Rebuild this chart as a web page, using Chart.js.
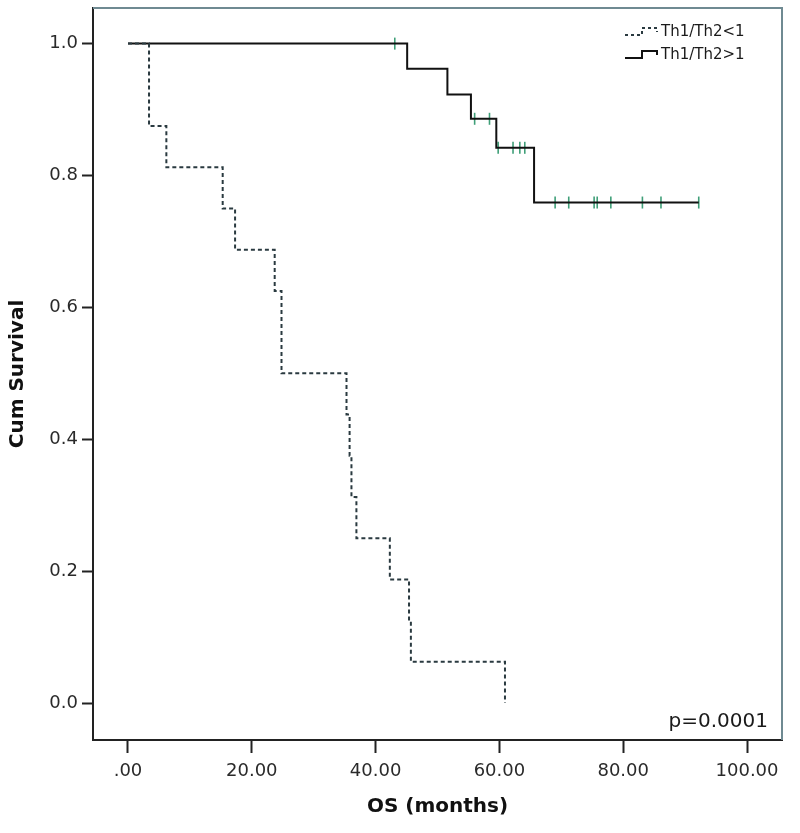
<!DOCTYPE html>
<html><head><meta charset="utf-8">
<script src="https://cdn.jsdelivr.net/npm/chart.js@4/dist/chart.umd.min.js"></script>
<style>html,body{margin:0;padding:0;background:#fff}#wrap{width:800px;height:833px;position:relative}</style>
</head><body><div id="wrap"><canvas id="c"></canvas></div>
<script>
// ---- data ----
const seriesNames = ['Th1/Th2<1', 'Th1/Th2>1'];
const lowTimes  = [0, 3.4, 6.2, 15.3, 17.3, 23.7, 24.8, 35.3, 35.8, 36.1, 36.9, 42.3, 45.4, 45.7, 60.9];
const lowSurv   = [1, 0.875, 0.8125, 0.75, 0.6875, 0.625, 0.5, 0.4375, 0.375, 0.3125, 0.25, 0.1875, 0.125, 0.0625, 0];
const highTimes = [0, 45.1, 51.6, 55.4, 59.5, 65.6, 92.2];
const highSurv  = [1, 0.962, 0.923, 0.886, 0.842, 0.759, 0.759];
const censorTimes = [43.1, 56.0, 58.4, 59.8, 62.2, 63.3, 64.1, 69.0, 71.2, 75.3, 75.8, 78.0, 83.1, 86.1, 92.2];
const censorSurv  = [1, 0.886, 0.886, 0.842, 0.842, 0.842, 0.842, 0.759, 0.759, 0.759, 0.759, 0.759, 0.759, 0.759, 0.759];
const xTicks = [0, 20, 40, 60, 80, 100];
const yTicks = [0, 0.2, 0.4, 0.6, 0.8, 1.0];
const xTitle = 'OS (months)';
const yTitle = 'Cum Survival';
const pValueText = 'p=0.0001';

const pts = (xs, ys) => xs.map((x, i) => ({x: x, y: ys[i]}));

const frameColor = '#6f8a92';
const censorColor = '#3f9f78';

const framePlugin = {
  id: 'frame',
  afterDraw(chart) {
    const {ctx, chartArea: a} = chart;
    ctx.save();
    ctx.strokeStyle = frameColor;
    ctx.lineWidth = 2;
    ctx.beginPath();
    ctx.moveTo(a.left, a.top);
    ctx.lineTo(a.right, a.top);
    ctx.lineTo(a.right, a.bottom);
    ctx.stroke();
    // p-value
    ctx.fillStyle = '#1a1a1a';
    ctx.font = '20px "DejaVu Sans"';
    ctx.textAlign = 'right';
    ctx.textBaseline = 'middle';
    ctx.fillText(pValueText, a.right - 14, a.bottom - 18);
    // legend
    const rows = [{name: seriesNames[0], dash: [3, 3], color: '#2a3a40'},
                  {name: seriesNames[1], dash: [], color: '#111'}];
    ctx.font = '15px "DejaVu Sans"';
    ctx.textAlign = 'left';
    rows.forEach((r, i) => {
      const cy = a.top + 24 + i * 23;
      const x0 = a.right - 157;
      ctx.strokeStyle = r.color;
      ctx.lineWidth = 2;
      ctx.setLineDash(r.dash);
      ctx.beginPath();
      ctx.moveTo(x0, cy + 3);
      ctx.lineTo(x0 + 17, cy + 3);
      ctx.lineTo(x0 + 17, cy - 4);
      ctx.lineTo(x0 + 32, cy - 4);
      ctx.lineTo(x0 + 32, cy);
      ctx.stroke();
      ctx.setLineDash([]);
      ctx.fillStyle = '#1a1a1a';
      ctx.fillText(r.name, x0 + 36, cy);
    });
    ctx.restore();
  }
};

new Chart(document.getElementById('c'), {
  type: 'line',
  data: {
    datasets: [
      {label: seriesNames[0], data: pts(lowTimes, lowSurv), stepped: 'before',
       borderColor: '#2a3a40', borderWidth: 2, borderDash: [4, 3], pointRadius: 0, fill: false},
      {label: seriesNames[1], data: pts(highTimes, highSurv), stepped: 'before',
       borderColor: '#111', borderWidth: 2, pointRadius: 0, fill: false},
      {label: 'censored', type: 'scatter', data: pts(censorTimes, censorSurv),
       pointStyle: 'line', rotation: 90, pointRadius: 6, borderColor: censorColor,
       backgroundColor: censorColor, pointBorderWidth: 1.6, showLine: false}
    ]
  },
  options: {
    responsive: true,
    maintainAspectRatio: false,
    animation: false,
    devicePixelRatio: 1,
    layout: {padding: {top: 8, right: 18, left: 0, bottom: 0}},
    plugins: {legend: {display: false}, tooltip: {enabled: false}},
    scales: {
      x: {
        type: 'linear', min: -5.65, max: 105.65,
        afterBuildTicks: s => { s.ticks = xTicks.map(v => ({value: v})); },
        afterFit: s => { s.height = 93; s.paddingLeft = 0; s.paddingRight = 0; },
        grid: {drawOnChartArea: false, drawTicks: true, tickLength: 13, tickWidth: 2, tickColor: '#222'},
        border: {display: true, color: '#222', width: 2},
        ticks: {padding: 8, color: '#2a2a2a', font: {family: 'DejaVu Sans', size: 18},
                callback: v => v === 0 ? '.00' : v.toFixed(2), maxRotation: 0, autoSkip: false},
        title: {display: true, text: xTitle, color: '#111', font: {family: 'DejaVu Sans', size: 20, weight: 'bold'},
                padding: {top: 0, bottom: 14}}
      },
      y: {
        type: 'linear', min: -0.056, max: 1.054,
        afterBuildTicks: s => { s.ticks = yTicks.map(v => ({value: v})); },
        afterFit: s => { s.width = 93; s.paddingTop = 0; s.paddingBottom = 0; },
        grid: {drawOnChartArea: false, drawTicks: true, tickLength: 11, tickWidth: 2, tickColor: '#222'},
        border: {display: true, color: '#222', width: 2},
        ticks: {padding: 4, color: '#2a2a2a', font: {family: 'DejaVu Sans', size: 18},
                callback: v => v.toFixed(1), autoSkip: false},
        title: {display: true, text: yTitle, color: '#111', font: {family: 'DejaVu Sans', size: 20, weight: 'bold'},
                padding: {top: 6, bottom: 0}}
      }
    }
  },
  plugins: [framePlugin]
});
</script>
</body></html>
